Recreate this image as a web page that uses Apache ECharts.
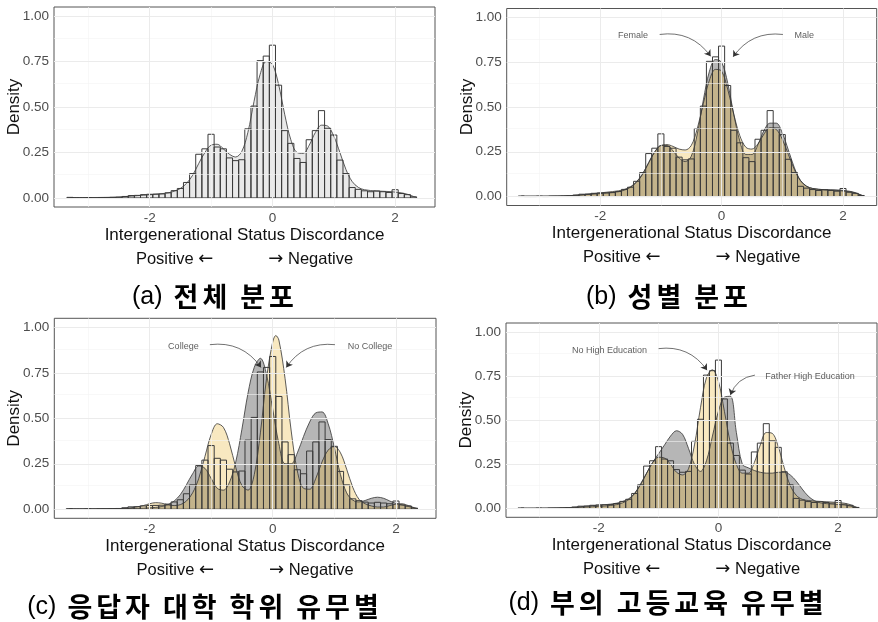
<!DOCTYPE html>
<html><head><meta charset="utf-8">
<script src="https://cdn.jsdelivr.net/npm/echarts@6/dist/echarts.min.js"></script>
<style>html,body{margin:0;padding:0;background:#fff}#c{width:878px;height:622px}</style>
</head><body><div id="c"></div>
<script>
// ---- data ----
const binCenters = [-3.3,-3.2,-3.1,-3.0,-2.9,-2.8,-2.7,-2.6,-2.5,-2.4,-2.3,-2.2,-2.1,-2.0,-1.9,-1.8,-1.7,-1.6,-1.5,-1.4,-1.3,-1.2,-1.1,-1.0,-0.9,-0.8,-0.7,-0.6,-0.5,-0.4,-0.3,-0.2,-0.1,0.0,0.1,0.2,0.3,0.4,0.5,0.6,0.7,0.8,0.9,1.0,1.1,1.2,1.3,1.4,1.5,1.6,1.7,1.8,1.9,2.0,2.1,2.2,2.3];
const binHeights = [0.003,0,0,0.002,0,0.002,0.002,0.003,0.004,0.008,0.013,0.014,0.018,0.02,0.021,0.022,0.028,0.04,0.052,0.085,0.134,0.24,0.27,0.35,0.28,0.27,0.22,0.205,0.21,0.38,0.505,0.755,0.78,0.84,0.62,0.37,0.30,0.217,0.195,0.32,0.37,0.48,0.383,0.346,0.208,0.134,0.057,0.047,0.039,0.034,0.038,0.034,0.03,0.045,0.024,0.018,0.006];
const binWidth = 0.1;

const densAll = [[-3.3,0.002],[-3.0,0.002],[-2.7,0.003],[-2.5,0.005],[-2.3,0.01],[-2.1,0.015],[-1.9,0.02],[-1.7,0.028],[-1.6,0.037],[-1.5,0.052],[-1.4,0.08],[-1.3,0.125],[-1.2,0.19],[-1.1,0.25],[-1.0,0.29],[-0.9,0.295],[-0.8,0.27],[-0.7,0.24],[-0.6,0.225],[-0.5,0.255],[-0.4,0.36],[-0.3,0.53],[-0.2,0.68],[-0.1,0.75],[0.0,0.735],[0.1,0.625],[0.2,0.46],[0.3,0.32],[0.4,0.25],[0.5,0.245],[0.6,0.29],[0.7,0.36],[0.8,0.40],[0.9,0.395],[1.0,0.34],[1.1,0.25],[1.2,0.155],[1.3,0.09],[1.4,0.058],[1.5,0.045],[1.7,0.038],[1.9,0.035],[2.1,0.028],[2.2,0.02],[2.3,0.008],[2.35,0.002]];
const densMale = [[-3.3,0.002],[-3.0,0.002],[-2.7,0.003],[-2.5,0.005],[-2.3,0.009],[-2.1,0.014],[-1.9,0.019],[-1.7,0.027],[-1.6,0.036],[-1.5,0.052],[-1.4,0.08],[-1.3,0.125],[-1.2,0.19],[-1.1,0.25],[-1.0,0.285],[-0.9,0.285],[-0.8,0.255],[-0.7,0.215],[-0.6,0.195],[-0.5,0.225],[-0.4,0.35],[-0.3,0.54],[-0.2,0.70],[-0.1,0.765],[0.0,0.75],[0.1,0.635],[0.2,0.46],[0.3,0.31],[0.4,0.235],[0.5,0.235],[0.6,0.29],[0.7,0.37],[0.8,0.41],[0.9,0.41],[1.0,0.355],[1.1,0.26],[1.2,0.16],[1.3,0.09],[1.4,0.058],[1.5,0.045],[1.7,0.038],[1.9,0.037],[2.1,0.03],[2.2,0.022],[2.3,0.008],[2.35,0.002]];
const densFemale = [[-3.3,0.002],[-3.0,0.002],[-2.7,0.003],[-2.5,0.005],[-2.3,0.01],[-2.1,0.017],[-1.9,0.024],[-1.7,0.032],[-1.6,0.04],[-1.5,0.055],[-1.4,0.083],[-1.3,0.128],[-1.2,0.19],[-1.1,0.25],[-1.0,0.285],[-0.9,0.29],[-0.8,0.28],[-0.7,0.265],[-0.6,0.26],[-0.5,0.285],[-0.4,0.38],[-0.3,0.52],[-0.2,0.65],[-0.1,0.71],[0.0,0.70],[0.1,0.60],[0.2,0.46],[0.3,0.34],[0.4,0.275],[0.5,0.265],[0.6,0.295],[0.7,0.35],[0.8,0.385],[0.9,0.375],[1.0,0.32],[1.1,0.235],[1.2,0.15],[1.3,0.088],[1.4,0.057],[1.5,0.045],[1.7,0.038],[1.9,0.034],[2.1,0.027],[2.2,0.02],[2.3,0.008],[2.35,0.002]];
const densCollege = [[-3.3,0.002],[-3.0,0.002],[-2.6,0.003],[-2.3,0.004],[-2.1,0.006],[-1.9,0.01],[-1.8,0.015],[-1.7,0.025],[-1.6,0.045],[-1.5,0.08],[-1.4,0.135],[-1.3,0.195],[-1.2,0.238],[-1.1,0.225],[-1.0,0.17],[-0.9,0.115],[-0.8,0.105],[-0.7,0.15],[-0.6,0.26],[-0.5,0.44],[-0.4,0.64],[-0.3,0.78],[-0.2,0.83],[-0.1,0.74],[0.0,0.55],[0.1,0.36],[0.2,0.25],[0.3,0.25],[0.4,0.31],[0.5,0.40],[0.6,0.48],[0.7,0.53],[0.8,0.535],[0.9,0.47],[1.0,0.34],[1.1,0.19],[1.2,0.09],[1.3,0.05],[1.4,0.04],[1.5,0.048],[1.6,0.06],[1.7,0.066],[1.8,0.06],[1.9,0.045],[2.0,0.032],[2.2,0.015],[2.35,0.002]];
const densNoCollege = [[-3.3,0.001],[-2.6,0.002],[-2.3,0.008],[-2.1,0.02],[-2.0,0.03],[-1.9,0.036],[-1.8,0.033],[-1.7,0.024],[-1.6,0.02],[-1.5,0.025],[-1.4,0.045],[-1.3,0.09],[-1.2,0.17],[-1.1,0.29],[-1.0,0.41],[-0.9,0.47],[-0.8,0.45],[-0.7,0.36],[-0.6,0.23],[-0.5,0.13],[-0.4,0.105],[-0.3,0.19],[-0.2,0.42],[-0.1,0.72],[0.0,0.92],[0.05,0.955],[0.1,0.93],[0.2,0.72],[0.3,0.43],[0.4,0.21],[0.5,0.115],[0.6,0.11],[0.7,0.17],[0.8,0.26],[0.9,0.325],[1.0,0.345],[1.1,0.31],[1.2,0.22],[1.3,0.12],[1.4,0.055],[1.5,0.03],[1.6,0.018],[1.7,0.012],[1.8,0.012],[1.9,0.02],[2.0,0.028],[2.1,0.03],[2.2,0.02],[2.3,0.008],[2.35,0.002]];
const densFatherHigh = [[-3.3,0.001],[-2.8,0.002],[-2.4,0.005],[-2.1,0.01],[-1.9,0.014],[-1.7,0.022],[-1.6,0.032],[-1.5,0.05],[-1.4,0.085],[-1.3,0.14],[-1.2,0.2],[-1.1,0.26],[-1.0,0.31],[-0.9,0.36],[-0.8,0.41],[-0.7,0.44],[-0.6,0.42],[-0.5,0.34],[-0.4,0.25],[-0.3,0.21],[-0.2,0.27],[-0.1,0.41],[0.0,0.55],[0.1,0.63],[0.2,0.635],[0.3,0.43],[0.4,0.25],[0.5,0.23],[0.6,0.215],[0.7,0.205],[0.8,0.2],[0.9,0.2],[1.0,0.205],[1.1,0.205],[1.2,0.19],[1.3,0.155],[1.4,0.11],[1.5,0.07],[1.6,0.045],[1.7,0.032],[1.9,0.025],[2.1,0.02],[2.3,0.006],[2.35,0.002]];
const densNoHigh = [[-3.3,0.002],[-3.0,0.002],[-2.7,0.003],[-2.5,0.005],[-2.3,0.01],[-2.1,0.016],[-1.9,0.021],[-1.7,0.03],[-1.6,0.04],[-1.5,0.055],[-1.4,0.085],[-1.3,0.135],[-1.2,0.2],[-1.1,0.26],[-1.0,0.29],[-0.9,0.285],[-0.8,0.25],[-0.7,0.205],[-0.6,0.19],[-0.5,0.225],[-0.4,0.36],[-0.3,0.57],[-0.2,0.74],[-0.1,0.785],[0.0,0.72],[0.1,0.55],[0.2,0.37],[0.3,0.25],[0.4,0.2],[0.5,0.2],[0.6,0.26],[0.7,0.36],[0.8,0.43],[0.9,0.425],[1.0,0.35],[1.1,0.23],[1.2,0.13],[1.3,0.075],[1.4,0.052],[1.5,0.045],[1.7,0.04],[1.9,0.036],[2.1,0.03],[2.2,0.022],[2.3,0.008],[2.35,0.002]];

const yTicks = [0, 0.25, 0.5, 0.75, 1];
const yMinor = [0.125, 0.375, 0.625, 0.875];
const xTicks = [-2, 0, 2];
const xMinor = [-3, -1, 1];
const panelLabels = ['(a)', '(b)', '(c)', '(d)'];
const panelWords = [['전체','분포'], ['성별','분포'], ['응답자','대학','학위','유무별'], ['부의','고등교육','유무별']];
const xTitle = 'Intergenerational Status Discordance';
const xSubLeft = 'Positive';
const xSubRight = 'Negative';
const yTitle = 'Density';

// annotations (data coordinates)
const annotations = [
  [],
  [{text:'Female', at:[-1.46,0.897], from:[-1.02,0.905], to:[-0.18,0.783], curve:0.3},
   {text:'Male', at:[1.36,0.897], from:[1.01,0.905], to:[0.19,0.78], curve:-0.3}],
  [{text:'College', at:[-1.45,0.897], from:[-1.02,0.905], to:[-0.19,0.78], curve:0.3},
   {text:'No College', at:[1.58,0.897], from:[1.01,0.905], to:[0.22,0.78], curve:-0.3}],
  [{text:'No High Education', at:[-1.82,0.896], from:[-1.0,0.905], to:[-0.19,0.783], curve:0.3},
   {text:'Father High Education', at:[1.53,0.749], from:[0.61,0.755], to:[0.2,0.642], curve:-0.3}]
];

// ---- layout / style ----
const grids = [
  {left:54, top:7, width:381, height:200},
  {left:506.7, top:8.5, width:370, height:197},
  {left:54.3, top:318.3, width:381.7, height:200},
  {left:506, top:323, width:371, height:194.3}
];
const xRanges = [[-3.56,2.65],[-3.54,2.555],[-3.545,2.65],[-3.55,2.65]];
const titlePos = [[214,297],[668,297],[204,607],[667,603]];
const GRAY = 'rgba(80,80,80,0.6)';
const YELLOW = 'rgba(230,172,30,0.4)';
const LIGHT = 'rgba(128,128,128,0.25)';

const chart = echarts.init(document.getElementById('c'), null, {renderer:'canvas'});
const xAxes = [], yAxes = [], series = [], graphics = [];
const font = '"Liberation Sans", Arial, sans-serif';
const sp = '\u00a0'.repeat(12);

grids.forEach((g, i) => {
  xAxes.push({
    type:'value', gridIndex:i, min:xRanges[i][0], max:xRanges[i][1],
    axisLine:{show:false}, splitLine:{show:false},
    axisTick:{show:true, customValues:xTicks, length:3, lineStyle:{color:'#333'}},
    axisLabel:{customValues:xTicks, formatter:v=>String(v), color:'#4d4d4d', fontSize:13.5, margin:4, fontFamily:font},
    name:'{a|'+xTitle+'}\n{b|'+xSubLeft+'\u00a0}{c|←}{b|'+sp+'}{c|→}{b|\u00a0'+xSubRight+'}', nameLocation:'middle', nameGap:16,
    nameTextStyle:{fontFamily:font, color:'#111', rich:{
      a:{fontSize:17, lineHeight:24, fontFamily:font, color:'#111'},
      b:{fontSize:16.5, lineHeight:24, fontFamily:font, color:'#111'},
      c:{fontSize:18, lineHeight:24, fontFamily:'"DejaVu Sans", sans-serif', color:'#111'}}}
  });
  yAxes.push({
    type:'value', gridIndex:i, min:-0.05, max:1.05,
    axisLine:{show:false}, splitLine:{show:false},
    axisTick:{show:true, customValues:yTicks, length:3, lineStyle:{color:'#333'}},
    axisLabel:{customValues:yTicks, formatter:v=>v.toFixed(2), color:'#4d4d4d', fontSize:13.5, margin:5, fontFamily:font},
    name:yTitle, nameLocation:'middle', nameGap:31, nameMoveOverlap:false,
    nameTextStyle:{fontSize:17, color:'#111', fontFamily:font}
  });
  // grid lines
  const ml = [];
  yMinor.forEach(v=>ml.push({yAxis:v, lineStyle:{color:'#f3f3f3', width:0.6, type:'solid'}}));
  xMinor.forEach(v=>ml.push({xAxis:v, lineStyle:{color:'#f3f3f3', width:0.6, type:'solid'}}));
  yTicks.forEach(v=>ml.push({yAxis:v, lineStyle:{color:'#ebebeb', width:1, type:'solid'}}));
  xTicks.forEach(v=>ml.push({xAxis:v, lineStyle:{color:'#ebebeb', width:1, type:'solid'}}));
  series.push({type:'line', xAxisIndex:i, yAxisIndex:i, data:[], z:1, silent:true,
    markLine:{silent:true, symbol:['none','none'], label:{show:false}, animation:false, data:ml}});

  const addDens = (data, color) => series.push({
    type:'line', xAxisIndex:i, yAxisIndex:i, data:data, smooth:0.35, symbol:'none', z:2,
    lineStyle:{color:'#333', width:0.8}, areaStyle:{color:color}, animation:false
  });
  if (i === 0) addDens(densAll, LIGHT);
  if (i === 1) { addDens(densMale, GRAY); addDens(densFemale, YELLOW); }
  if (i === 2) { addDens(densCollege, GRAY); addDens(densNoCollege, YELLOW); }
  if (i === 3) { addDens(densFatherHigh, GRAY); addDens(densNoHigh, YELLOW); }

  series.push({
    type:'custom', xAxisIndex:i, yAxisIndex:i, z:3, animation:false,
    data: binCenters.map((c, k) => [c, binHeights[k]]),
    renderItem: (params, api) => {
      const x = api.value(0), h = api.value(1);
      const p0 = api.coord([x - binWidth/2, h]);
      const p1 = api.coord([x + binWidth/2, 0]);
      return {type:'rect', shape:{x:p0[0], y:p0[1], width:p1[0]-p0[0], height:p1[1]-p0[1]},
        style:{fill:'none', stroke:'#3a3a3a', lineWidth:1}};
    }
  });

  annotations[i].forEach(a => {
    series.push({
      type:'scatter', xAxisIndex:i, yAxisIndex:i, z:5, symbolSize:0, animation:false, silent:true,
      data:[{value:a.at, name:a.text}],
      label:{show:true, position:'inside', formatter:'{b}', fontSize:9, color:'#333', fontFamily:font}
    });
    series.push({
      type:'lines', coordinateSystem:'cartesian2d', xAxisIndex:i, yAxisIndex:i, z:5, animation:false, silent:true,
      symbol:['none','arrow'], symbolSize:[4,6],
      lineStyle:{color:'#333', width:0.7, opacity:1, curveness:a.curve},
      data:[{coords:[a.from, a.to]}]
    });
  });

  const titleText = '{p|' + panelLabels[i] + '}{s| }' +
    panelWords[i].map(w => w.split('').map(ch => '{k|' + ch + '}').join('')).join('{s| }');
  graphics.push({type:'text', x:titlePos[i][0], y:titlePos[i][1],
    style:{text:titleText, fill:'#000', textAlign:'center', textVerticalAlign:'middle',
      rich:{
        p:{fontSize:25, fontFamily:font, fill:'#000'},
        s:{fontSize:25, width:9},
        k:{fontSize:27, fontWeight:'bold', fontFamily:'"Noto Sans CJK KR", sans-serif', padding:[0,2], fill:'#000'}
      }}});
});

chart.setOption({
  animation:false,
  backgroundColor:'#fff',
  grid: grids.map(g => Object.assign({show:true, borderColor:'#555', borderWidth:1, backgroundColor:'#fff', containLabel:false}, g)),
  xAxis:xAxes, yAxis:yAxes, series:series,
  graphic:{elements:graphics}
});
</script></body></html>
